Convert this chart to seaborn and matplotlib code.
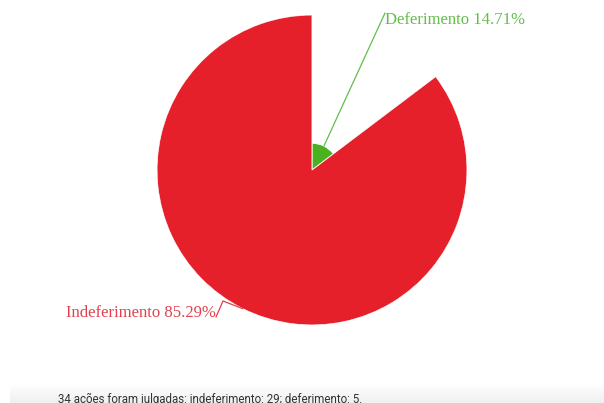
import numpy as np
import matplotlib
matplotlib.use("Agg")
import matplotlib.pyplot as plt
import seaborn as sns

sns.set_theme(style="white")

# Rulings on the lawsuits
categories = ["Deferimento", "Indeferimento"]
counts = [5, 29]
percent_labels = ["14.71%", "85.29%"]
colors = ["#4bb21f", "#e6202a"]
text_colors = ["#62bd4a", "#e2404e"]
footnote = "34 ações foram julgadas: indeferimento: 29; deferimento: 5."

W, H = 604, 403
fig = plt.figure(figsize=(W / 100, H / 100), dpi=100)
fig.patch.set_facecolor("white")

# Rose chart: angle from the share, radius from the count
cx, cy, rpx = 312, 170, 155
polar = fig.add_axes([(cx - rpx) / W, (H - cy - rpx) / H, 2 * rpx / W, 2 * rpx / H],
                     projection="polar")
polar.set_theta_offset(np.pi / 2)
polar.set_theta_direction(-1)
total = sum(counts)
widths = [2 * np.pi * c / total for c in counts]
starts = np.concatenate([[0], np.cumsum(widths)[:-1]])
polar.bar(starts, counts, width=widths, align="edge", color=colors,
          edgecolor="white", linewidth=0.6)
polar.set_ylim(0, max(counts))
polar.set_axis_off()

# Overlay in pixel coordinates for labels and footer
ov = fig.add_axes([0, 0, 1, 1], zorder=5)
ov.set_xlim(0, W)
ov.set_ylim(H, 0)
ov.set_axis_off()
ov.patch.set_alpha(0)


def anchor(i):
    theta = starts[i] + widths[i] / 2
    x, y = polar.transData.transform((theta, counts[i]))
    return x, H - y


serif = ["Liberation Serif", "DejaVu Serif"]

# Deferimento label
ax0, ay0 = anchor(0)
ov.plot([ax0, 385], [ay0, 13], color=text_colors[0], lw=0.9)
ov.text(385, 24, f"{categories[0]} {percent_labels[0]}", color=text_colors[0],
        fontsize=12, family=serif, ha="left", va="baseline")

# Indeferimento label
ax1, ay1 = anchor(1)
ov.plot([ax1, 223, 216], [ay1, 301, 317], color=text_colors[1], lw=0.9)
ov.text(216, 317, f"{categories[1]} {percent_labels[1]}", color=text_colors[1],
        fontsize=12, family=serif, ha="right", va="baseline")

# Footer band with a soft grey gradient
grad = np.linspace(1.0, 0.94, 50).reshape(-1, 1)
ov.imshow(np.repeat(grad[:, :, None], 3, axis=2), extent=[10, W, H, 384],
          aspect="auto", zorder=0, interpolation="bilinear")
ov.set_xlim(0, W)
ov.set_ylim(H, 0)
ov.text(58, 402.5, footnote, color="#333333", fontsize=8.3,
        family=["Roboto", "DejaVu Sans"], ha="left", va="baseline")

fig.savefig("out.png", dpi=100, facecolor="white")
